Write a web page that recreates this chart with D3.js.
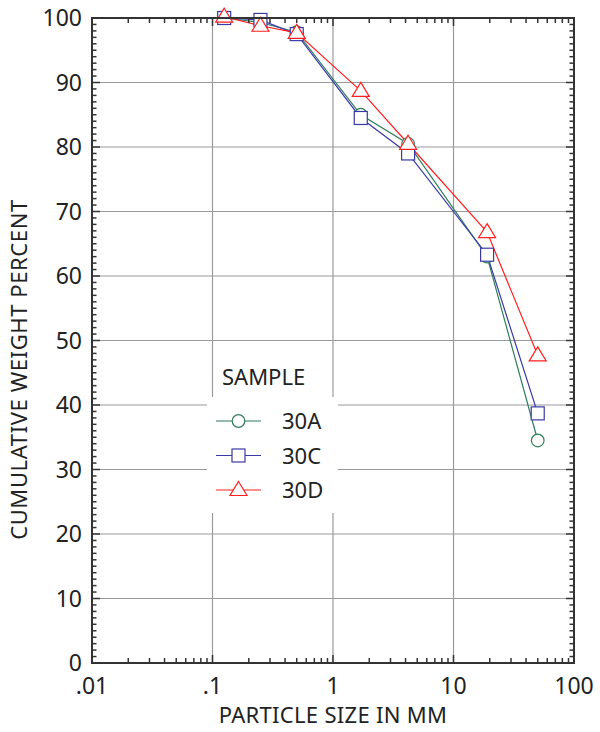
<!DOCTYPE html>
<html>
<head>
<meta charset="utf-8">
<script src="https://cdn.jsdelivr.net/npm/d3@7"></script>
<style>
  body { margin: 0; background: #fff; }
  text { font-family: "Noto Sans", sans-serif; fill: #222; }
</style>
</head>
<body>
<div id="chart"></div>
<script>
// Particle sizes (mm) and cumulative weight percent per sample
const sizes = [0.125, 0.25, 0.5, 1.7, 4.2, 19, 50];
const sampleNames = ["30A", "30C", "30D"];
const values30A = [100, 99.3, 97.8, 85.0, 80.5, 63.0, 34.5];
const values30C = [100, 99.7, 97.5, 84.5, 79.0, 63.3, 38.7];
const values30D = [100.2, 98.8, 97.7, 88.7, 80.5, 66.8, 47.7];
const xTickLabels = [".01", ".1", "1", "10", "100"];
const yTickValues = [0, 10, 20, 30, 40, 50, 60, 70, 80, 90, 100];

const seriesColors = ["#2e7d5a", "#3a3aa6", "#ff2020"];
const seriesShapes = ["circle", "square", "triangle"];

const width = 600, height = 732;
const margin = {left: 92, right: 26, top: 18, bottom: 69};

const svg = d3.select("#chart").append("svg")
    .attr("width", width)
    .attr("height", height);

const x = d3.scaleLog()
    .domain([0.01, 100])
    .range([margin.left, width - margin.right]);

const y = d3.scaleLinear()
    .domain([0, 100])
    .range([height - margin.bottom, margin.top]);

const x0 = margin.left, x1 = width - margin.right;
const y0 = height - margin.bottom, y1 = margin.top;

// Grid
const decades = [0.01, 0.1, 1, 10, 100];
svg.append("g").selectAll("line").data(decades.slice(1, -1)).join("line")
    .attr("x1", d => x(d)).attr("x2", d => x(d))
    .attr("y1", y0).attr("y2", y1)
    .attr("stroke", "#9a9a9a").attr("stroke-width", 1.2);
svg.append("g").selectAll("line").data(yTickValues.slice(1, -1)).join("line")
    .attr("x1", x0).attr("x2", x1)
    .attr("y1", d => y(d)).attr("y2", d => y(d))
    .attr("stroke", "#9a9a9a").attr("stroke-width", 1.2);

// Legend backing box
svg.append("rect")
    .attr("x", 207).attr("y", 397)
    .attr("width", 131).attr("height", 116)
    .attr("fill", "#fff");

// Marker drawing
function drawMarker(sel, shape, color) {
  if (shape === "circle") {
    sel.append("circle").attr("r", 6.3);
  } else if (shape === "square") {
    sel.append("rect").attr("x", -6.5).attr("y", -6.5)
        .attr("width", 13).attr("height", 13);
  } else {
    sel.append("path").attr("d", "M0,-8.5L8.5,5.5L-8.5,5.5Z");
  }
  sel.selectAll("*")
      .attr("fill", "#fff")
      .attr("stroke", color)
      .attr("stroke-width", 1.2);
}

const allValues = [values30A, values30C, values30D];
const line = d3.line()
    .x(d => x(d[0]))
    .y(d => y(d[1]));

allValues.forEach((vals, i) => {
  const pts = sizes.map((s, j) => [s, vals[j]]);
  svg.append("path")
      .datum(pts)
      .attr("d", line)
      .attr("fill", "none")
      .attr("stroke", seriesColors[i])
      .attr("stroke-width", 1.2);
});

allValues.forEach((vals, i) => {
  sizes.forEach((s, j) => {
    const g = svg.append("g").attr("transform", `translate(${x(s)},${y(vals[j])})`);
    drawMarker(g, seriesShapes[i], seriesColors[i]);
  });
});

// Frame and ticks (inward on all four sides)
const axisColor = "#333";
svg.append("rect")
    .attr("x", x0).attr("y", y1)
    .attr("width", x1 - x0).attr("height", y0 - y1)
    .attr("fill", "none")
    .attr("stroke", axisColor)
    .attr("stroke-width", 2);

const xMinor = [];
for (let k = 0; k < 4; k++) {
  for (let m = 2; m <= 9; m++) xMinor.push(decades[k] * m);
}
const ticks = svg.append("g").attr("stroke", axisColor).attr("stroke-width", 1.5);
xMinor.forEach(v => {
  ticks.append("line").attr("x1", x(v)).attr("x2", x(v)).attr("y1", y0).attr("y2", y0 - 5);
  ticks.append("line").attr("x1", x(v)).attr("x2", x(v)).attr("y1", y1).attr("y2", y1 + 5);
});
decades.forEach(v => {
  ticks.append("line").attr("x1", x(v)).attr("x2", x(v)).attr("y1", y0).attr("y2", y0 - 8);
  ticks.append("line").attr("x1", x(v)).attr("x2", x(v)).attr("y1", y1).attr("y2", y1 + 8);
});
d3.range(0, 101).forEach(v => {
  const len = v % 10 === 0 ? 8 : 4.5;
  ticks.append("line").attr("x1", x0).attr("x2", x0 + len).attr("y1", y(v)).attr("y2", y(v));
  ticks.append("line").attr("x1", x1).attr("x2", x1 - len).attr("y1", y(v)).attr("y2", y(v));
});

// Tick labels
const fontSize = 23;
svg.append("g").selectAll("text").data(yTickValues).join("text")
    .attr("x", x0 - 10)
    .attr("y", d => y(d) + 8)
    .attr("text-anchor", "end")
    .attr("font-size", fontSize)
    .text(d => d);

svg.append("g").selectAll("text").data(decades).join("text")
    .attr("x", d => x(d))
    .attr("y", 694)
    .attr("text-anchor", "middle")
    .attr("font-size", fontSize)
    .text((d, i) => xTickLabels[i]);

// Axis titles
svg.append("text")
    .attr("x", (x0 + x1) / 2)
    .attr("y", 723)
    .attr("text-anchor", "middle")
    .attr("font-size", fontSize - 1)
    .attr("letter-spacing", 0.3)
    .text("PARTICLE SIZE IN MM");

svg.append("text")
    .attr("transform", `translate(27,${(y0 + y1) / 2 + 29}) rotate(-90)`)
    .attr("text-anchor", "middle")
    .attr("font-size", fontSize - 1)
    .attr("letter-spacing", 0.6)
    .text("CUMULATIVE WEIGHT PERCENT");

// Legend
svg.append("text")
    .attr("x", 222).attr("y", 385)
    .attr("font-size", fontSize - 1)
    .text("SAMPLE");

sampleNames.forEach((name, i) => {
  const cy = 421 + i * 34.5;
  svg.append("line")
      .attr("x1", 216).attr("x2", 261)
      .attr("y1", cy).attr("y2", cy)
      .attr("stroke", seriesColors[i]).attr("stroke-width", 1.2);
  const g = svg.append("g").attr("transform", `translate(238.5,${cy})`);
  drawMarker(g, seriesShapes[i], seriesColors[i]);
  svg.append("text")
      .attr("x", 282).attr("y", cy + 8)
      .attr("font-size", fontSize - 1)
      .text(name);
});
</script>
</body>
</html>
